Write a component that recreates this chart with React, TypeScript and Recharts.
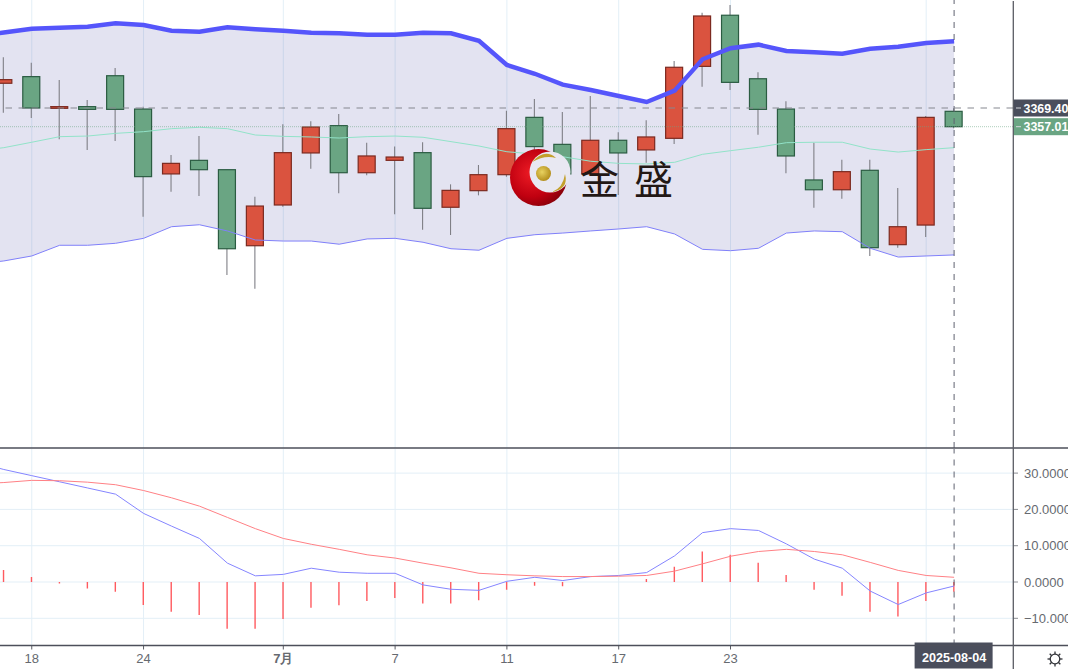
import * as React from 'react';
import {
  Area,
  Bar,
  CartesianGrid,
  ComposedChart,
  Line,
  ReferenceLine,
  XAxis,
  YAxis,
} from 'recharts';

// daily candles, index 0 is the first one that is visible
const openValues = [3385.8, 3390.2, 3369.2, 3370.3, 3390.8, 3368.7, 3325.7, 3334.7, 3328.5, 3278.1, 3305.1, 3339.6, 3357.7, 3326.5, 3334.7, 3339.8, 3303.6, 3314.6, 3325.2, 3363.2, 3345.3, 3325.7, 3348.0, 3341.6, 3349.3, 3397.0, 3430.9, 3388.8, 3368.7, 3321.7, 3315.2, 3328.1, 3278.8, 3291.8, 3367.2];
const highValues = [3403.0, 3399.4, 3388.0, 3374.7, 3395.9, 3370.3, 3338.2, 3350.8, 3328.5, 3310.6, 3358.6, 3360.6, 3365.4, 3346.4, 3343.8, 3346.7, 3318.8, 3331.6, 3367.6, 3375.4, 3366.8, 3377.4, 3353.3, 3361.3, 3400.6, 3432.6, 3437.7, 3393.1, 3373.8, 3346.4, 3335.1, 3335.1, 3316.4, 3364.1, 3369.2];
const lowValues = [3366.3, 3362.8, 3348.7, 3341.6, 3347.5, 3297.3, 3313.9, 3311.1, 3258.7, 3249.6, 3304.0, 3329.2, 3312.9, 3324.8, 3298.9, 3288.7, 3285.2, 3311.5, 3323.9, 3341.6, 3323.7, 3325.0, 3311.7, 3333.1, 3345.5, 3383.5, 3381.3, 3351.7, 3326.1, 3303.3, 3309.3, 3271.3, 3276.8, 3283.9, 3356.0];
const closeValues = [3388.2, 3369.4, 3370.3, 3368.5, 3368.5, 3323.9, 3332.7, 3328.5, 3276.1, 3304.4, 3339.8, 3356.8, 3326.5, 3337.6, 3336.9, 3302.9, 3314.8, 3325.2, 3355.7, 3343.8, 3325.7, 3348.0, 3339.6, 3350.2, 3396.4, 3430.4, 3386.4, 3368.5, 3337.6, 3315.2, 3327.2, 3276.8, 3290.7, 3363.2, 3357.01];

// bands and MACD lines start one day earlier, that point lies off the left edge
const upperBand = [3417.1, 3419.5, 3422.0, 3422.6, 3423.3, 3425.6, 3424.4, 3420.6, 3420.0, 3422.9, 3421.6, 3420.6, 3419.3, 3418.9, 3418.0, 3418.0, 3419.3, 3418.9, 3414.0, 3397.9, 3392.1, 3384.9, 3381.3, 3377.4, 3373.4, 3380.9, 3401.7, 3409.0, 3411.4, 3407.2, 3406.3, 3405.4, 3408.7, 3410.0, 3412.5, 3413.6];
const midBand = [3340.9, 3343.1, 3346.7, 3350.4, 3350.8, 3352.6, 3353.7, 3355.7, 3356.6, 3355.7, 3351.5, 3350.6, 3350.2, 3349.5, 3350.4, 3350.8, 3350.0, 3347.1, 3344.2, 3340.4, 3338.9, 3337.1, 3334.1, 3332.7, 3332.3, 3333.4, 3338.7, 3341.1, 3343.4, 3346.4, 3346.7, 3346.7, 3342.2, 3340.2, 3341.8, 3343.1];
const lowerBand = [3266.0, 3268.0, 3271.3, 3278.4, 3278.4, 3279.7, 3283.0, 3290.7, 3292.0, 3287.9, 3281.9, 3281.2, 3281.2, 3279.1, 3282.6, 3283.0, 3280.4, 3276.1, 3275.1, 3283.0, 3285.4, 3286.5, 3287.9, 3289.2, 3290.7, 3285.9, 3275.7, 3274.8, 3276.4, 3286.5, 3287.9, 3287.4, 3276.4, 3270.6, 3271.3, 3272.0];
const difValues = [33.0, 31.0, 29.3, 27.6, 25.9, 24.2, 18.9, 15.4, 12.0, 5.2, 1.7, 2.1, 3.8, 2.7, 2.4, 2.4, -0.8, -2.0, -2.3, 0.2, 1.3, 0.4, 1.5, 1.8, 2.6, 7.2, 13.6, 14.7, 14.2, 10.5, 6.3, 3.8, -2.5, -6.2, -3.0, -1.1];
const deaValues = [27.0, 27.4, 28.0, 27.9, 27.5, 26.8, 25.2, 23.2, 20.9, 17.8, 14.7, 12.0, 10.4, 9.0, 7.5, 6.6, 5.2, 3.9, 2.4, 2.0, 1.7, 1.5, 1.5, 1.6, 1.8, 3.0, 5.0, 7.1, 8.4, 9.0, 8.4, 7.5, 5.4, 3.2, 1.8, 1.3];
const macdValues = [3.3, 1.4, -0.4, -1.8, -2.7, -6.3, -8.2, -9.1, -12.9, -12.9, -10.2, -7.1, -6.4, -5.2, -4.4, -5.9, -5.9, -5.0, -2.1, -1.0, -1.2, 0, 0, 0.8, 4.2, 8.4, 7.5, 5.3, 1.9, -2.1, -3.8, -8.2, -9.5, -5.2, -2.7];

// the tick at 33 has no label, the date tag sits over it
const tickIndexes = [1, 5, 10, 14, 18, 22, 26, 33, 34];
const tickLabels = ['18', '24', '7月', '7', '11', '17', '23', '', '2025-08-04'];
const gridIndexes = [1, 5, 10, 14, 18, 22, 26, 33];
const macdTicks = [30, 20, 10, 0, -10];
const crossPrice = 3369.4;
const lastPrice = 3357.01;
const lastIndex = 34;

const rows = upperBand.map((upper, k) => ({
  idx: k - 1,
  open: openValues[k - 1],
  high: highValues[k - 1],
  low: lowValues[k - 1],
  close: closeValues[k - 1],
  upper,
  mid: midBand[k],
  lower: lowerBand[k],
  dif: difValues[k],
  dea: deaValues[k],
  macd: macdValues[k - 1],
}));

const xDomain: [number, number] = [-0.136, 36.107];
const SLATE = '#4a4e5c';
const GREEN = '#6aa583';
const RED = '#da533f';
const GRID = '#e3eff7';
const FONT = '"Liberation Sans", Arial, sans-serif';

function Candle(props: any) {
  const { x, y, width, height, payload } = props;
  if (payload.high === undefined) return null;
  const { open, close, high, low } = payload;
  const perUnit = height / (high - low);
  const top = y + (high - Math.max(open, close)) * perUnit;
  const bottom = y + (high - Math.min(open, close)) * perUnit;
  const up = close >= open;
  const cx = x + width / 2;
  return (
    <g>
      <line x1={cx} x2={cx} y1={y} y2={y + height} stroke="#7f7f86" strokeWidth={1.1} />
      <rect
        x={cx - 8.5}
        y={top}
        width={17}
        height={Math.max(bottom - top, 1)}
        fill={up ? RED : GREEN}
        stroke={up ? '#7c2a20' : '#2b5c42'}
        strokeWidth={1.2}
      />
    </g>
  );
}

function PriceTag(props: any) {
  const { x, y, payload } = props;
  const left = x - 8;
  const fill = payload.value === crossPrice ? SLATE : GREEN;
  return (
    <g>
      <rect x={left} y={y - 8.5} width={56} height={17} fill={fill} />
      <line x1={left + 3} x2={left + 8} y1={y} y2={y} stroke="#d5d8dc" strokeWidth={1} />
      <text x={left + 10.5} y={y + 4.5} fill="#fff" fontFamily={FONT} fontSize={12.4} fontWeight={700}>
        {payload.value.toFixed(2)}
      </text>
    </g>
  );
}

function MacdTick(props: any) {
  const { x, y, payload } = props;
  const v: number = payload.value;
  const label = (v < 0 ? '−' : '') + Math.abs(v).toFixed(4);
  return (
    <text x={x + 4} y={y + 4.5} fill="#666a70" fontFamily={FONT} fontSize={13}>
      {label}
    </text>
  );
}

function DateTick(props: any) {
  const { x, y, payload } = props;
  const label = tickLabels[tickIndexes.indexOf(payload.value)];
  if (payload.value === lastIndex) {
    return (
      <g>
        <rect x={x - 39.5} y={y - 9} width={78} height={26} fill={SLATE} />
        <text
          x={x}
          y={y + 10.5}
          textAnchor="middle"
          fill="#fff"
          fontFamily={FONT}
          fontSize={12.6}
          fontWeight={700}
        >
          {label}
        </text>
      </g>
    );
  }
  if (!label) return null;
  return (
    <text
      x={x}
      y={y + 11}
      textAnchor="middle"
      fill="#666a70"
      fontFamily={FONT}
      fontSize={13}
      fontWeight={label === '7月' ? 700 : 400}
    >
      {label}
    </text>
  );
}

function Overlay() {
  const rays = [0, 45, 90, 135, 180, 225, 270, 315];
  return (
    <svg
      width={1068}
      height={669}
      style={{ position: 'absolute', left: 0, top: 0, pointerEvents: 'none' }}
    >
      <defs>
        <radialGradient id="ball" cx="38%" cy="42%" r="70%">
          <stop offset="0%" stopColor="#ee1c25" />
          <stop offset="60%" stopColor="#c00010" />
          <stop offset="100%" stopColor="#7a0008" />
        </radialGradient>
        <radialGradient id="gold" cx="40%" cy="40%" r="65%">
          <stop offset="0%" stopColor="#e8d260" />
          <stop offset="100%" stopColor="#b08a18" />
        </radialGradient>
      </defs>
      <line x1={0} x2={1068} y1={448} y2={448} stroke="#4d4f5a" strokeWidth={1.5} />
      <line x1={0} x2={1068} y1={645.5} y2={645.5} stroke="#4d4f5a" strokeWidth={1.5} />
      <line x1={1013.3} x2={1013.3} y1={1} y2={669} stroke="#5a5c64" strokeWidth={1.3} />
      {/* watermark */}
      <circle cx={538.5} cy={177.5} r={28.5} fill="url(#ball)" />
      <circle cx={550} cy={172} r={20.5} fill="#e8e8f2" />
      <circle cx={543.5} cy={173.5} r={7.5} fill="url(#gold)" />
      <path d="M532 162 Q545 148 556 158 Q545 154.5 532 162 Z" fill="#c3a02c" />
      <path d="M552 192 Q563 188 565 174 Q569 189 552 192 Z" fill="#c3a02c" />
      <text x={580} y={193.5} fill="#231815" fontFamily='"Noto Sans CJK SC"' fontSize={39}>
        金
      </text>
      <text x={634} y={193.5} fill="#231815" fontFamily='"Noto Sans CJK SC"' fontSize={39}>
        盛
      </text>
      {/* settings gear */}
      <circle cx={1055} cy={659} r={4.8} fill="none" stroke="#2f3136" strokeWidth={1.3} />
      {rays.map((a) => (
        <line
          key={a}
          x1={1055 + 5 * Math.cos((a * Math.PI) / 180)}
          y1={659 + 5 * Math.sin((a * Math.PI) / 180)}
          x2={1055 + 7.5 * Math.cos((a * Math.PI) / 180)}
          y2={659 + 7.5 * Math.sin((a * Math.PI) / 180)}
          stroke="#2f3136"
          strokeWidth={1.3}
        />
      ))}
    </svg>
  );
}

export default function App() {
  return (
    <div
      style={{
        position: 'absolute',
        left: 0,
        top: 0,
        width: 1068,
        height: 669,
        overflow: 'hidden',
        background: '#fff',
      }}
    >
      <div style={{ position: 'absolute', left: 0, top: 0 }}>
        <ComposedChart
          width={1068}
          height={448}
          data={rows}
          margin={{ top: 0, right: 0, left: 0, bottom: 0 }}
        >
          <CartesianGrid stroke={GRID} horizontal={false} verticalValues={gridIndexes} />
          <XAxis dataKey="idx" type="number" domain={xDomain} allowDataOverflow hide />
          <YAxis
            orientation="right"
            width={55}
            domain={[3144, 3441]}
            allowDataOverflow
            ticks={[crossPrice, lastPrice]}
            interval={0}
            tick={<PriceTag />}
            tickLine={false}
            axisLine={false}
          />
          <Area
            dataKey={(d: any) => [d.lower, d.upper]}
            type="linear"
            stroke="none"
            fill="#4b4ba5"
            fillOpacity={0.155}
            activeDot={false}
            isAnimationActive={false}
          />
          <Line dataKey="upper" type="linear" stroke="#5555fb" strokeWidth={4.5} dot={false} activeDot={false} isAnimationActive={false} />
          <Line dataKey="mid" type="linear" stroke="#92e3c9" strokeWidth={1} dot={false} activeDot={false} isAnimationActive={false} />
          <Line dataKey="lower" type="linear" stroke="#8080fa" strokeWidth={1} dot={false} activeDot={false} isAnimationActive={false} />
          <Bar
            dataKey={(d: any) => (d.high === undefined ? null : [d.low, d.high])}
            barSize={17}
            shape={<Candle />}
            isAnimationActive={false}
          />
          <ReferenceLine y={crossPrice} stroke="#85878f" strokeDasharray="6.5 6.5" strokeWidth={1.2} />
          <ReferenceLine y={lastPrice} stroke={GREEN} strokeOpacity={0.55} strokeDasharray="1 1" />
          <ReferenceLine x={lastIndex} stroke="#5f6270" strokeDasharray="6 6" strokeWidth={1} />
        </ComposedChart>
      </div>
      <div style={{ position: 'absolute', left: 0, top: 449 }}>
        <ComposedChart
          width={1068}
          height={220}
          data={rows}
          margin={{ top: 0, right: 0, left: 0, bottom: 0 }}
        >
          <CartesianGrid
            stroke={GRID}
            horizontalValues={macdTicks}
            verticalValues={gridIndexes}
          />
          <XAxis
            dataKey="idx"
            type="number"
            domain={xDomain}
            allowDataOverflow
            height={23.5}
            ticks={tickIndexes}
            interval={0}
            tick={<DateTick />}
            tickSize={4}
            tickLine={{ stroke: '#5a5c64' }}
            axisLine={false}
          />
          <YAxis
            orientation="right"
            width={55}
            domain={[-17.49, 36.64]}
            allowDataOverflow
            ticks={macdTicks}
            interval={0}
            tick={<MacdTick />}
            tickSize={5}
            tickLine={{ stroke: '#8a8c92' }}
            axisLine={false}
          />
          <Bar dataKey="macd" barSize={1.4} fill="#ff5a5f" isAnimationActive={false} />
          <Line dataKey="dif" type="linear" stroke="#8585ff" strokeWidth={1} dot={false} activeDot={false} isAnimationActive={false} />
          <Line dataKey="dea" type="linear" stroke="#ff8085" strokeWidth={1} dot={false} activeDot={false} isAnimationActive={false} />
          <ReferenceLine x={lastIndex} stroke="#5f6270" strokeDasharray="6 6" strokeWidth={1} />
        </ComposedChart>
      </div>
      <Overlay />
    </div>
  );
}
